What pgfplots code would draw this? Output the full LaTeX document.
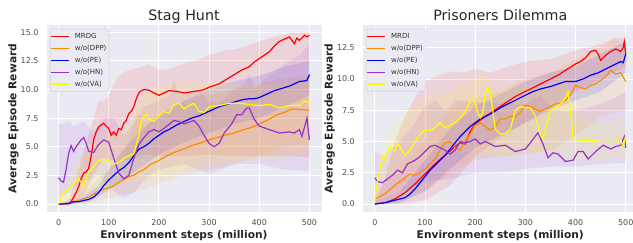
\documentclass[border=0pt]{standalone}
\usepackage{fontspec}
\setmainfont{DejaVu Sans}
\usepackage{pgfplots}
\pgfplotsset{compat=1.18}
\usepgfplotslibrary{fillbetween}
\definecolor{bgc}{HTML}{EAEAF2}
\definecolor{cred}{HTML}{FF0000}
\definecolor{corange}{HTML}{FF8C00}
\definecolor{cblue}{HTML}{0000FF}
\definecolor{cpurple}{HTML}{9932CC}
\definecolor{cyellow}{HTML}{FFFF00}
\newcommand{\band}[4]{%
  \addplot[draw=none, forget plot, name path=#2U] coordinates {#3};
  \addplot[draw=none, forget plot, name path=#2L] coordinates {#4};
  \addplot[fill=#1, fill opacity=0.1, draw=none, forget plot] fill between[of=#2U and #2L];
}
\pgfplotsset{
  sbstyle/.style={
    scale only axis, width=275bp, height=187bp,
    xmin=-24, xmax=524,
    axis background/.style={fill=bgc},
    axis line style={draw=none},
    major tick style={draw=none},
    grid=major, major grid style={white, line width=0.9bp},
    xtick={0,100,...,500},
    tick label style={font=\fontsize{8}{9}\selectfont, text=black!70},
    /pgf/number format/assume math mode=true,
    yticklabel style={/pgf/number format/fixed, /pgf/number format/fixed zerofill, /pgf/number format/precision=1, xshift=-4.5bp},
    xticklabel style={yshift=-4.5bp},
    every axis title shift=0pt,
    title style={at={(axis description cs:0.5,1.024)}, anchor=base, font=\fontsize{14.3}{16}\selectfont, text=black!85},
    xlabel style={at={(axis description cs:0.5,-0.1417)}, anchor=base, font=\fontsize{10.7}{12}\selectfont\bfseries, text=black!85},
    ylabel style={at={(axis description cs:-0.1098,0.5)}, anchor=base, font=\fontsize{10.7}{12}\selectfont\bfseries, text=black!85},
    xlabel={Environment steps (million)},
    ylabel={Average Episode Reward},
    legend style={at={(axis description cs:0.0127,0.979)}, anchor=north west, fill=bgc, fill opacity=0.8, text opacity=1, draw=black!20, rounded corners=2bp, font=\fontsize{7}{8}\selectfont, inner xsep=0pt, inner ysep=1bp, row sep=0pt, text=black!80,
      nodes={inner xsep=2.5bp, inner ysep=2.6bp},
      /tikz/every odd column/.append style={column sep=3bp},
      /tikz/every even column/.append style={text height=5.3bp, text depth=1.5bp}},
    legend cell align=left,
    legend image code/.code={\draw[##1, line width=1.2bp, draw opacity=1] (0bp,0bp) -- (18bp,0bp);},
    every axis plot/.append style={line width=1.2bp},
  }
}
\begin{document}
\begin{tikzpicture}
% ---------------- Stag Hunt ----------------
\begin{axis}[sbstyle, at={(46.5bp,31bp)}, anchor=south west,
  ymin=-0.70, ymax=15.64, ytick={0,2.5,...,15}, title={Stag Hunt}]
\band{cred}{r}{(0,0)(20,0.3)(30,1.5)(40,3)(50,4.5)(60,6)(70,7.5)(80,9)(90,9)(100,9.4)(110,10.5)(120,11.2)(130,11.5)(140,11.7)(160,11.9)(180,12.2)(200,11.7)(220,11.8)(250,12.3)(280,12.6)(300,13.0)(330,13.4)(360,13.6)(400,14.2)(430,14.6)(460,14.9)(500,15.0)}{(0,0)(30,0)(50,0.8)(70,2.5)(90,4)(110,3.8)(130,3.8)(150,4.0)(170,4.3)(200,4.2)(250,4.2)(300,4.3)(350,4.2)(400,4.2)(450,4.2)(500,4.1)}
\band{corange}{o}{(0,0)(50,1)(100,3)(140,5.5)(150,7.5)(160,8)(170,7)(200,7.5)(250,9)(300,9.5)(350,10)(400,10.5)(450,11)(500,11.2)}{(0,0)(50,0)(100,0.5)(150,1)(200,1.8)(250,2.5)(300,3)(350,3.5)(400,4.2)(450,5)(500,5.3)}
\band{cblue}{b}{(0,0)(40,0.4)(80,1.6)(100,3)(150,5.8)(200,7.8)(250,9)(300,10)(350,10.7)(400,11.2)(450,12)(500,12.5)}{(0,0)(60,0.2)(100,1.2)(150,2.8)(200,4.3)(250,5.4)(300,6.2)(350,7.0)(400,7.5)(450,8.5)(500,9.5)}
\band{cpurple}{p}{(0,7)(10,7)(20,7.2)(30,6.8)(50,7.2)(70,6.3)(90,7.5)(110,7.5)(130,6)(150,7)(170,8.5)(200,9)(220,9.5)(230,10.9)(240,9.5)(260,9.8)(280,10)(300,9)(320,8.8)(350,10)(370,10.5)(380,11.4)(390,10)(400,10.5)(430,11.5)(460,12.5)(480,13)(500,14)}{(0,0.5)(20,1)(50,2)(80,2.5)(100,1.5)(130,0.5)(150,1)(180,2.5)(200,3)(250,3.5)(300,2.6)(350,3.5)(400,3.5)(450,3.0)(500,2.9)}
\band{cyellow}{y}{(0,0.2)(30,3)(60,5)(100,6)(140,6.5)(160,9)(180,10)(200,10.2)(250,10.8)(300,10.5)(350,10.5)(400,10.5)(450,10.5)(500,10.8)}{(0,0)(30,0.5)(60,1)(100,1.5)(150,2)(200,2.5)(250,3)(300,3.5)(350,3.8)(400,3.8)(450,4)(500,4.5)}
\addplot[cred] coordinates {(0,0)(10,0)(20,0.05)(25,0.2)(30,0.6)(35,1.0)(40,1.5)(45,2.2)(50,2.7)(55,2.8)(60,3.1)(65,4.2)(70,5.6)(75,6.3)(80,6.75)(85,6.9)(90,7.05)(95,6.8)(100,6.6)(105,6.0)(110,6.3)(115,6.0)(120,6.6)(125,6.5)(130,7.05)(135,7.3)(140,7.9)(145,8.1)(150,8.5)(155,9.2)(160,9.7)(165,9.9)(170,10.0)(180,9.95)(190,9.7)(200,9.5)(210,9.7)(220,9.9)(235,9.85)(250,9.7)(265,9.8)(280,9.9)(290,10.0)(300,10.2)(320,10.5)(335,10.9)(350,11.3)(365,11.7)(380,12.0)(390,12.4)(400,12.7)(410,13.0)(420,13.3)(430,13.8)(440,14.2)(450,14.4)(460,14.6)(465,14.3)(470,14.0)(475,14.5)(480,14.3)(485,14.5)(490,14.75)(495,14.6)(500,14.75)};
\addlegendentry{MRDG}
\addplot[corange] coordinates {(0,0)(20,0.05)(40,0.3)(50,0.45)(60,0.6)(75,1.0)(90,1.3)(100,1.4)(110,1.6)(125,2.0)(140,2.4)(150,2.5)(160,2.8)(170,3.0)(185,3.5)(200,3.8)(215,4.2)(230,4.5)(250,4.8)(265,5.1)(280,5.3)(300,5.6)(315,5.8)(330,6.0)(350,6.2)(370,6.5)(385,6.7)(400,7.0)(420,7.4)(435,7.8)(450,8.0)(465,8.3)(480,8.25)(500,8.2)};
\addlegendentry{w/o(DPP)}
\addplot[cblue] coordinates {(0,0)(20,0.02)(30,0.2)(40,0.2)(50,0.3)(60,0.4)(70,0.6)(75,0.8)(80,1.0)(90,1.6)(100,2.1)(110,2.5)(120,2.9)(130,3.2)(140,3.6)(150,4.2)(160,4.8)(170,5.0)(180,5.3)(190,5.7)(200,6.0)(210,6.3)(220,6.5)(235,6.9)(250,7.2)(265,7.5)(280,7.7)(290,7.9)(300,8.1)(310,8.3)(320,8.5)(335,8.7)(350,8.9)(365,9.1)(380,9.2)(390,9.2)(400,9.3)(415,9.6)(430,9.9)(445,10.1)(460,10.3)(470,10.5)(480,10.7)(490,10.75)(495,10.8)(500,11.3)};
\addlegendentry{w/o(PE)}
\addplot[cpurple] coordinates {(0,2.3)(5,2.0)(10,1.9)(15,3.0)(20,4.4)(25,5.1)(30,4.6)(35,5.0)(45,5.6)(50,5.8)(55,5.3)(60,4.6)(70,4.5)(80,5.2)(90,5.6)(100,5.4)(110,4.0)(120,2.7)(130,2.2)(140,2.5)(150,4.0)(160,5.2)(170,5.8)(180,6.3)(190,6.5)(200,6.3)(210,6.6)(230,7.3)(240,7.2)(250,7.0)(270,7.3)(280,6.8)(290,6.0)(300,5.3)(310,5.0)(320,5.3)(330,6.2)(345,7.0)(355,7.8)(365,7.8)(375,8.4)(380,8.4)(390,7.4)(400,6.8)(420,6.5)(440,6.2)(460,6.3)(470,6.2)(480,6.5)(485,5.9)(495,7.5)(500,5.6)};
\addlegendentry{w/o(HN)}
\addplot[cyellow] coordinates {(0,0)(5,0.5)(10,1.0)(20,1.3)(25,1.5)(30,1.8)(40,2.2)(45,1.9)(50,1.6)(55,2.3)(60,2.8)(70,3.3)(80,3.8)(90,3.9)(100,3.8)(110,3.5)(120,3.6)(130,4.0)(140,4.2)(150,4.4)(160,6.0)(165,7.3)(175,7.9)(180,7.4)(190,7.2)(200,7.7)(210,8.1)(220,7.9)(230,8.7)(240,8.8)(250,8.3)(260,8.6)(270,8.8)(280,8.1)(290,8.0)(300,8.5)(320,8.6)(340,8.8)(360,8.8)(380,8.7)(400,8.6)(420,8.7)(440,8.4)(460,8.6)(480,8.6)(490,9.0)(500,8.8)};
\addlegendentry{w/o(VA)}
\end{axis}
% ---------------- Prisoners Dilemma ----------------
\begin{axis}[sbstyle, at={(362.8bp,31bp)}, anchor=south west,
  ymin=-0.64, ymax=14.32, ytick={0,2.5,...,12.5}, title={Prisoners Dilemma}]
\band{cred}{r}{(0,0)(20,2)(40,5)(60,7)(80,8.5)(100,9.8)(120,10.2)(150,10.6)(180,10.5)(200,10.8)(230,10.5)(250,10.8)(300,11.4)(350,11.6)(400,12.3)(450,12.8)(480,13.3)(500,13.2)}{(0,0)(50,0)(100,0.3)(150,1.5)(200,3.8)(250,5.3)(300,6.5)(350,7.8)(400,9.0)(450,10)(500,11)}
\band{corange}{o}{(0,0.8)(50,3)(100,5)(150,7.5)(200,8.5)(250,9)(300,10)(350,10.5)(400,11.5)(450,12.5)(480,13.3)(500,12.5)}{(0,0)(50,0.5)(100,1)(150,2.5)(200,3.5)(250,3.8)(300,4)(350,4.3)(400,5.5)(450,7)(500,7.5)}
\band{cblue}{b}{(0,0.2)(50,1)(100,3.5)(150,6)(200,7.8)(250,8.8)(300,9.8)(350,10.5)(400,11)(450,12)(500,13)}{(0,0)(50,0.1)(100,1)(150,2.8)(200,4.5)(250,5.5)(300,6.5)(350,7.5)(400,8.3)(450,9)(500,10.5)}
\band{cpurple}{p}{(0,4.2)(20,3.8)(50,5)(80,6.5)(100,7.8)(120,8.3)(140,7.5)(160,8.3)(200,8.2)(250,8)(300,8)(330,8.7)(360,7.5)(400,7.5)(450,8)(480,8.5)(500,9)}{(0,0.2)(20,0.5)(50,1)(80,1.5)(100,1.8)(150,2)(200,2.5)(250,2.5)(300,2.8)(350,3)(400,3)(450,3.2)(500,3.3)}
\band{cyellow}{y}{(0,0.6)(20,5)(50,7)(100,8.5)(150,9)(200,10)(220,10.5)(240,9)(280,9.5)(300,9.5)(350,9)(380,10)(400,7)(450,6.5)(500,7)}{(0,0)(20,2)(50,2.5)(100,3.5)(150,4)(200,4.3)(250,3.8)(300,4)(350,4)(400,3.5)(450,3.5)(500,3.8)}
\addplot[cred] coordinates {(0,0)(20,0.1)(40,0.4)(60,0.9)(80,1.6)(100,2.4)(120,3.2)(140,3.9)(160,4.6)(170,4.9)(180,4.8)(190,5.8)(200,6.4)(210,6.7)(220,7.0)(235,7.4)(250,7.8)(265,8.2)(280,8.6)(300,9.0)(315,9.3)(330,9.6)(350,10.0)(365,10.3)(380,10.7)(400,11.2)(410,11.4)(420,11.7)(430,12.2)(440,12.3)(445,12.0)(450,11.5)(460,11.9)(470,12.2)(480,12.4)(490,12.2)(495,12.5)(497,13.0)(500,12.0)};
\addlegendentry{MRDI}
\addplot[corange] coordinates {(0,0.4)(20,0.8)(40,1.5)(60,2.1)(70,2.4)(80,2.3)(90,2.5)(100,2.8)(110,3.2)(120,3.6)(130,4.3)(140,4.9)(150,5.0)(160,4.5)(170,4.3)(180,5.0)(190,5.6)(200,6.3)(210,6.5)(220,6.2)(230,5.9)(240,6.2)(250,6.8)(260,6.8)(270,7.0)(280,7.0)(290,7.3)(300,7.9)(310,7.8)(320,7.6)(330,7.4)(340,7.6)(350,7.8)(360,8.0)(370,8.1)(380,8.3)(390,8.7)(400,9.5)(410,9.3)(420,9.2)(430,9.5)(440,9.6)(450,9.9)(460,10.2)(470,10.7)(480,10.4)(490,10.5)(500,9.8)};
\addlegendentry{w/o(DPP)}
\addplot[cblue] coordinates {(0,0)(20,0.1)(40,0.3)(60,0.5)(70,0.8)(80,1.2)(90,1.7)(100,2.2)(110,2.7)(120,3.1)(130,3.5)(140,3.9)(150,4.4)(160,4.9)(170,5.4)(180,5.8)(190,6.2)(200,6.5)(210,6.8)(220,7.0)(235,7.3)(250,7.7)(265,8.0)(280,8.3)(290,8.5)(300,8.7)(315,9.0)(330,9.2)(340,9.3)(350,9.4)(365,9.6)(380,9.8)(390,9.8)(400,9.8)(415,10.0)(430,10.3)(445,10.5)(460,10.8)(470,11.0)(480,11.2)(490,11.4)(495,11.3)(500,12.0)};
\addlegendentry{w/o(PE)}
\addplot[cpurple] coordinates {(0,2.1)(5,1.8)(15,1.7)(25,2.0)(35,2.3)(45,2.7)(55,2.5)(65,3.2)(80,3.5)(90,3.8)(100,4.2)(110,4.6)(120,4.7)(130,4.5)(140,4.3)(150,4.0)(160,4.3)(170,5.0)(180,4.9)(190,5.0)(200,5.2)(210,4.8)(220,5.0)(240,4.6)(260,4.7)(280,4.2)(300,4.4)(310,4.9)(325,5.7)(335,4.8)(345,3.7)(355,4.1)(365,4.0)(380,3.4)(395,3.5)(405,4.2)(415,4.2)(425,3.6)(440,4.2)(455,4.7)(470,4.4)(480,4.6)(490,4.7)(497,5.4)(500,4.5)};
\addlegendentry{w/o(HN)}
\addplot[cyellow] coordinates {(0,0.3)(5,1.8)(10,2.8)(15,3.8)(20,3.5)(25,4.1)(30,4.6)(35,4.4)(40,4.2)(45,4.8)(50,4.6)(60,3.9)(70,4.3)(80,5.0)(90,5.6)(100,5.9)(110,5.9)(120,6.1)(130,6.5)(140,6.1)(150,6.3)(160,6.5)(170,6.9)(180,7.4)(190,8.2)(195,8.4)(200,8.1)(205,7.3)(210,6.9)(215,7.3)(220,8.8)(225,9.3)(230,8.8)(235,7.5)(240,6.0)(250,5.6)(260,5.6)(270,6.0)(280,7.5)(290,7.8)(300,7.7)(310,7.7)(320,7.0)(330,5.5)(335,5.2)(340,6.0)(350,7.5)(360,7.7)(370,8.0)(380,8.5)(385,9.0)(390,7.5)(395,5.2)(410,5.1)(430,5.1)(450,5.0)(470,5.0)(480,5.0)(490,5.1)(495,4.6)(500,5.5)};
\addlegendentry{w/o(VA)}
\end{axis}
\pgfresetboundingbox
\path[use as bounding box] (0bp,0bp) rectangle (633bp,243bp);
\end{tikzpicture}
\end{document}
